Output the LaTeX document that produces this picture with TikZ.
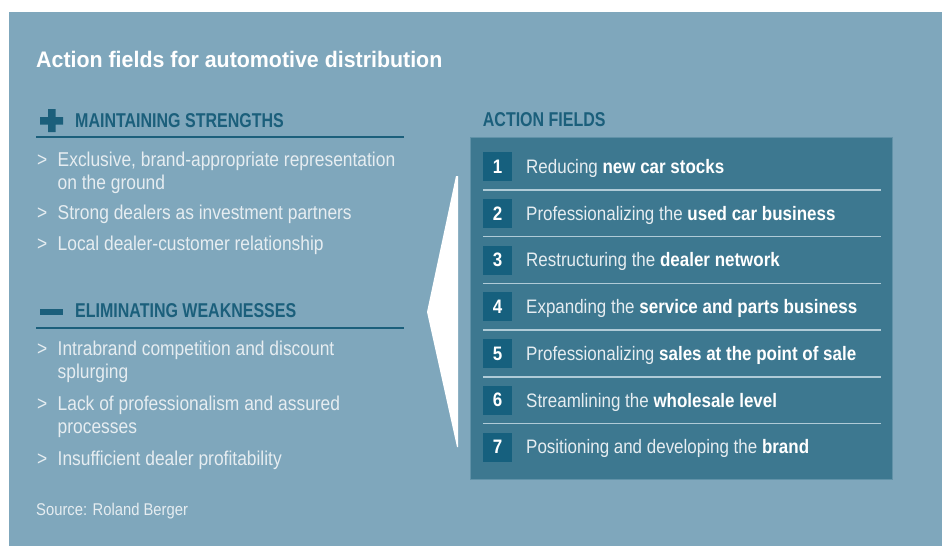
\documentclass[tikz,border=0pt]{standalone}
\usepackage{fontspec}
\setmainfont{Liberation Sans}[FakeStretch=0.87]
\newfontfamily\headfont{Liberation Sans}[FakeStretch=0.8]
\newfontfamily\titlefont{Liberation Sans}[FakeStretch=0.95]
\usetikzlibrary{positioning}
\definecolor{panel}{RGB}{127,167,188}
\definecolor{fieldbg}{RGB}{61,120,144}
\definecolor{numbg}{RGB}{22,96,126}
\definecolor{headcol}{RGB}{27,95,123}
\definecolor{bodycol}{RGB}{230,237,241}
\definecolor{sepcol}{RGB}{176,203,215}
\def\hi#1{\textbf{\textcolor{white}{#1}}}
\tikzset{head/.style={anchor=base west,inner sep=0pt,text=headcol,font=\headfont\bfseries\fontsize{20}{24}\selectfont}}
\tikzset{item/.style={anchor=base west,inner sep=0pt,text=bodycol,align=left,font=\fontsize{20}{23}\selectfont}}
\tikzset{gt/.style={anchor=base west,inner sep=0pt,text=bodycol,font=\fontsize{20}{23}\selectfont}}
\tikzset{num/.style={fill=numbg,minimum size=29pt,inner sep=0pt,text=white,font=\bfseries\fontsize{19.5}{22}\selectfont}}
\tikzset{field/.style={anchor=base west,inner sep=0pt,text=bodycol,font=\fontsize{19.5}{22}\selectfont}}
\tikzset{sep/.style={draw=sepcol,line width=1.4pt}}

\begin{document}
\begin{tikzpicture}[x=1pt,y=-1pt]
	\useasboundingbox (0,0) rectangle (942,546);
	\fill[white] (0,0) rectangle (942,546);
	\fill[panel] (9,12) rectangle (942,546);

	\node[anchor=base west,inner sep=0pt,text=white,font=\titlefont\bfseries\fontsize{22.5}{27}\selectfont] (t) at (36,67.5) {Action fields for automotive distribution};

	% strengths (two-line items sit on the baseline of their last line)
	\fill[headcol] (40,117) rectangle (63,124.5) (48,109) rectangle (55.5,132);
	\node[head] (hs) at (75,127) {MAINTAINING STRENGTHS};
	\draw[headcol,line width=2pt] (36,137) -- (404,137);
	\node[gt] (g1) at (37,166) {>};
	\node[item] (s1) at (57.5,189) {Exclusive, brand-appropriate representation\\on the ground};
	\node[gt] (g2) at (37,219.5) {>};
	\node[item] (s2) at (57.5,219.5) {Strong dealers as investment partners};
	\node[gt] (g3) at (37,250) {>};
	\node[item] (s3) at (57.5,250) {Local dealer-customer relationship};

	% weaknesses
	\fill[headcol] (40,308.5) rectangle (63,314.5);
	\node[head] (hw) at (75,317.5) {ELIMINATING WEAKNESSES};
	\draw[headcol,line width=2pt] (36,327.5) -- (404,327.5);
	\node[gt] (g4) at (37,355) {>};
	\node[item] (w1) at (57.5,378) {Intrabrand competition and discount\\splurging};
	\node[gt] (g5) at (37,410) {>};
	\node[item] (w2) at (57.5,433) {Lack of professionalism and assured\\processes};
	\node[gt] (g6) at (37,465) {>};
	\node[item] (w3) at (57.5,465) {Insufficient dealer profitability};

	\node[anchor=base west,inner sep=0pt,text=bodycol,font=\fontsize{17}{20}\selectfont] (src) at (36,515) {Source: Roland Berger};

	% wedge and action fields
	\fill[white] (456,176) -- (427,312) -- (457,447) -- (458,447) -- (458,176) -- cycle;
	\node[head] (ha) at (482.7,126) {ACTION FIELDS};
	\fill[fieldbg] (470,137) rectangle (893,480);
	\draw[panel!55!fieldbg,line width=1pt] (470.5,137.5) rectangle (892.5,479.5);

	\node[num] (n1) at (497.5,166.5) {1};
	\node[field] (f1) at (526,173.3) {Reducing \hi{new car stocks}};
	\draw[sep] (483,190) -- (881,190);
	\node[num] (n2) at (497.5,213.25) {2};
	\node[field] (f2) at (526,220) {Professionalizing the \hi{used car business}};
	\draw[sep] (483,236.7) -- (881,236.7);
	\node[num] (n3) at (497.5,260) {3};
	\node[field] (f3) at (526,266.8) {Restructuring the \hi{dealer network}};
	\draw[sep] (483,283.4) -- (881,283.4);
	\node[num] (n4) at (497.5,306.75) {4};
	\node[field] (f4) at (526,313.5) {Expanding the \hi{service and parts business}};
	\draw[sep] (483,330.1) -- (881,330.1);
	\node[num] (n5) at (497.5,353.5) {5};
	\node[field] (f5) at (526,360.3) {Professionalizing \hi{sales at the point of sale}};
	\draw[sep] (483,376.9) -- (881,376.9);
	\node[num] (n6) at (497.5,400.25) {6};
	\node[field] (f6) at (526,407) {Streamlining the \hi{wholesale level}};
	\draw[sep] (483,423.6) -- (881,423.6);
	\node[num] (n7) at (497.5,447) {7};
	\node[field] (f7) at (526,453.8) {Positioning and developing the \hi{brand}};
\end{tikzpicture}
\end{document}
